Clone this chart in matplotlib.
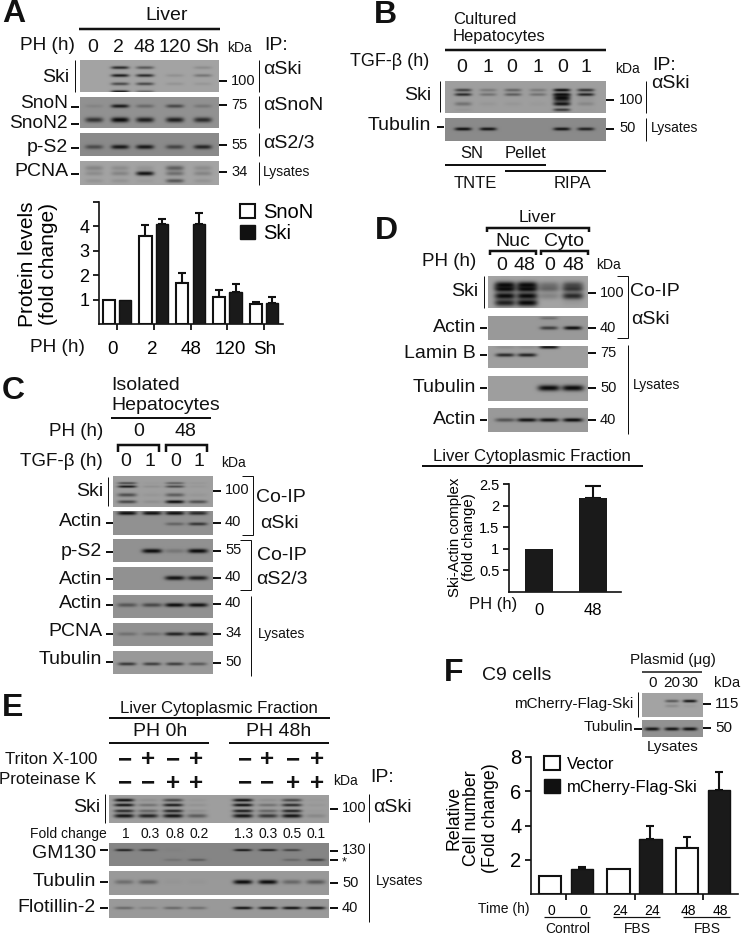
import numpy as np
import matplotlib
matplotlib.use("Agg")
import matplotlib.pyplot as plt
from matplotlib.patches import Patch
from matplotlib.transforms import ScaledTranslation

plt.rcParams['font.family'] = ['Liberation Sans', 'DejaVu Sans']

# ---------- bar data ----------
A_GROUPS = ['0', '2', '48', '120', 'Sh']
A_SNON = [1, 3.6, 1.7, 1.1, 0.8]
A_SNON_ERR = [0, 0.45, 0.4, 0.3, 0.1]
A_SKI = [1, 4.1, 4.1, 1.3, 0.85]
A_SKI_ERR = [0, 0.22, 0.45, 0.35, 0.25]

D_GROUPS = ['0', '48']
D_VALUES = [1, 2.17]
D_ERR = [0, 0.3]

F_TIMES = ['0', '0', '24', '24', '48', '48']
F_VECTOR = [1.03, 1.45, 2.7]
F_VECTOR_ERR = [0, 0, 0.6]
F_SKI = [1.47, 3.2, 6.05]
F_SKI_ERR = [0.1, 0.75, 1.1]

# ---------- blot band darkness tables (rows = bands, columns = lanes) ----------
BA_SKI = [[0, .8, .5, 0, .15], [0, .9, .8, .12, .3], [0, .6, .6, .1, .08], [0, .9, .4, 0, 0]]
BA_SNON = [[.1, .9, .3, .55, .2], [.7, 1, .85, .85, .75]]
BA_PS2 = [[.5, .9, .9, .55, .8]]
BA_PCNA = [[.2, .15, .1, .45, .15], [.15, .2, .95, .35, .2], [.1, .1, .05, .5, .1]]

BB_SKI = [[.65, .25, .4, .25, 1, .75], [.8, .3, .45, .3, 1, .85], [0, 0, 0, 0, 1, .05],
          [.3, .05, .05, .03, .95, .15], [.05, 0, 0, 0, .7, .02]]
BB_TUB = [[.98, .95, 0, 0, .95, .85]]

BC_SKI = [[.6, .03, .45, .05], [.95, .1, .6, .05], [.55, .05, .45, .05], [.6, .1, 1, .55]]
BC_ACT1 = [[1, .98, 1, .8], [0, 0, .35, .7]]
BC_PS2 = [[0, 1, .2, 1]]
BC_ACT2 = [[0, 0, .95, .85]]
BC_ACT3 = [[.45, .55, 1, .95]]
BC_PCNA = [[.25, .25, .85, .9]]
BC_TUB = [[.7, .65, .65, .45]]

BD_SKI = [[1, 1, .3, .55], [1, 1, .35, .65], [1, 1, .2, .8], [.85, 1, 0, .05]]
BD_ACT1 = [[0, 0, .3, 0], [0, 0, .65, 1]]
BD_LAM = [[.1, .1, .95, .02], [.8, .85, 0, 0]]
BD_TUB = [[0, 0, 1, 1]]
BD_ACT2 = [[.5, .95, .95, 1]]

BE_SKI = [[.98, .1, .6, .05, .98, .1, .6, .03], [.95, .3, .9, .08, .98, .3, .8, .05],
          [.8, .4, .85, .1, .9, .4, .85, .03], [.95, .85, .95, .45, .95, .7, .95, .15]]
BE_GM = [[.9, .65, .03, 0, .98, .9, .6, 0], [0, 0, .15, .35, 0, 0, .25, .65]]
BE_TUB = [[.3, .4, .03, .03, 1, 1, .35, .45]]
BE_FLO = [[.35, .15, .35, .3, .98, .95, .98, .95]]

BF_SKI = [[0, .5, .95], [0, .15, .05]]
BF_TUB = [[.95, .95, .98]]

W, H = 745, 935
fig = plt.figure(figsize=(W / 100, H / 100), dpi=100)
main = fig.add_axes([0, 0, 1, 1])
main.set_xlim(0, W)
main.set_ylim(H, 0)
main.axis('off')


def T(x, y, s, size=14, ha='left', va='center', **kw):
    main.text(x, y, s, fontsize=size, ha=ha, va=va, color='#111111', **kw)


def L(x0, y0, x1, y1, lw=1.0):
    main.plot([x0, x1], [y0, y1], color='#111111', lw=lw * 0.72, solid_capstyle='butt',
              solid_joinstyle='miter')


def bracket(x0, x1, y, drop, lw=2.5):
    main.plot([x0, x0, x1, x1], [y + drop, y, y, y + drop], color='#111111', lw=lw * 0.72,
              solid_capstyle='butt', solid_joinstyle='miter')


def side_bracket(x_in, x_out, y0, y1, lw=1.0):
    main.plot([x_in, x_out, x_out, x_in], [y0, y0, y1, y1], color='#111111', lw=lw * 0.72,
              solid_capstyle='butt', solid_joinstyle='miter')


def blot(box, lanes, ys, dark, hh=1.8, hw=9, base=0.58):
    x0, y0, x1, y1 = box
    xs = np.linspace(x0, x1, int((x1 - x0) * 2))
    yy = np.linspace(y0, y1, int((y1 - y0) * 2))
    X, Y = np.meshgrid(xs, yy)
    trans = np.ones_like(X)
    hhs = hh if np.iterable(hh) else [hh] * len(ys)
    for yc, h, row in zip(ys, hhs, dark):
        for xc, d in zip(lanes, row):
            if d > 0:
                g = np.exp(-((X - xc) / hw) ** 4) * np.exp(-((Y - yc) / h) ** 2)
                trans *= 1 - 0.97 * d * g
    img = base * trans + 0.02
    main.imshow(img, extent=(x0, x1, y1, y0), cmap='gray', vmin=0, vmax=1, aspect='auto',
                interpolation='bilinear', zorder=1)


def bar_axes(px0, px1, py_top, py_bot, ylim, c0, step):
    ax = fig.add_axes([px0 / W, 1 - py_bot / H, (px1 - px0) / W, (py_bot - py_top) / H])
    ax.patch.set_alpha(0)
    ax.set_xlim((px0 - c0) / step, (px1 - c0) / step)
    ax.set_ylim(*ylim)
    for s in ('top', 'right'):
        ax.spines[s].set_visible(False)
    for s in ('left', 'bottom'):
        ax.spines[s].set_linewidth(1.2)
        ax.spines[s].set_color('#111111')
    return ax


def err_up(ax, x, vals, errs, cap=3):
    x, vals, errs = np.asarray(x, float), np.asarray(vals, float), np.asarray(errs, float)
    m = errs > 0
    ax.errorbar(x[m], vals[m], yerr=[np.zeros(m.sum()), errs[m]], capsize=cap, elinewidth=1.5,
                capthick=1.5, ecolor='#111111', fmt='none')


def grouped(ax, vals1, err1, vals2, err2, off, wid):
    x = np.arange(len(vals1))
    err_up(ax, x - off, vals1, err1)
    err_up(ax, x + off, vals2, err2)
    ax.bar(x - off, vals1, wid, facecolor='white', edgecolor='#111111', linewidth=1.5, zorder=3)
    ax.bar(x + off, vals2, wid, facecolor='#1a1a1a', edgecolor='#111111', linewidth=1.0, zorder=3)


# ================= Panel A =================
T(2, 14, 'A', 23, weight='bold')
T(167, 16, 'Liver', 14, ha='center')
L(79, 29, 220, 29, 2.5)
T(20, 46, 'PH (h)', 13.7)
for x, s in zip([93, 118, 144, 175, 207], A_GROUPS):
    T(x, 47, s, 14, ha='center')
T(227, 48, 'kDa', 10)
T(264, 46, 'IP:', 14)
AL = [94, 120, 145, 175, 203]
blot((80, 60, 219, 92), AL, [67.5, 75.5, 84, 92], BA_SKI, hh=1.5, base=0.62)
blot((80, 97, 219, 128), AL, [106, 120], BA_SNON, hh=[1.8, 2.6], base=0.55)
blot((80, 133, 219, 156), AL, [147], BA_PS2, hh=2.2, base=0.52)
blot((80, 161, 219, 185), AL, [168, 173.5, 181], BA_PCNA, hh=[2.5, 2.2, 2.0], base=0.62)
T(69, 77, 'Ski', 14, ha='right')
L(74.5, 60, 74.5, 92)
T(68, 104, 'SnoN', 13.8, ha='right')
T(68, 123.5, 'SnoN2', 13.8, ha='right')
T(68, 147, 'p-S2', 14, ha='right')
T(68, 171, 'PCNA', 14, ha='right')
for y in (107, 124, 148, 174):
    L(71, y, 79, y, 2)
for y, s in zip((81, 105, 145, 172), ('100', '75', '55', '34')):
    L(219, y, 227, y, 2)
    T(231, y, s, 10.5)
for y0, y1 in ((60, 92), (96, 128), (133, 156), (162, 185)):
    L(258.5, y0, 258.5, y1)
T(263, 70, 'αSki', 14)
T(263, 106, 'αSnoN', 14)
T(263, 143, 'αS2/3', 14)
T(263, 172, 'Lysates', 10)

axA = bar_axes(99, 283, 202, 324, (0, 5), 117, 36.75)
grouped(axA, A_SNON, A_SNON_ERR, A_SKI, A_SKI_ERR, 0.225, 0.33)
axA.set_yticks([1, 2, 3, 4, 5], ['1', '2', '3', '4', ''])
axA.set_xticks(range(5), A_GROUPS)
axA.tick_params(axis='y', labelsize=13, length=4, width=1.2, pad=3)
axA.tick_params(axis='x', labelsize=13.5, length=4, width=1.2, pad=8)
for lbl, dx in zip(axA.get_xticklabels(), [-4, -2, 1, 3, 1]):
    lbl.set_transform(lbl.get_transform() + ScaledTranslation(dx / 100, 0, fig.dpi_scale_trans))
axA.set_ylabel('Protein levels\n(fold change)', fontsize=15, va='center', linespacing=1.12)
axA.yaxis.set_label_coords(38, 264, transform=main.transData)
axA.legend(handles=[Patch(fc='white', ec='#111111', lw=1.5, label='SnoN'),
                    Patch(fc='#111111', ec='#111111', label='Ski')],
           loc='upper left', bbox_to_anchor=(240, 203), bbox_transform=main.transData,
           frameon=False, fontsize=14.5, borderpad=0, borderaxespad=0, handlelength=0.72,
           handleheight=0.72, handletextpad=0.45, labelspacing=0.1)
T(30, 347, 'PH (h)', 13.7)

# ================= Panel B =================
T(374, 15, 'B', 23, weight='bold')
T(453, 20, 'Cultured', 12)
T(453, 37, 'Hepatocytes', 12)
L(445, 50, 606, 50, 2.5)
T(350, 62, 'TGF-β (h)', 13)
for x, s in zip([462, 488, 512, 538, 563, 586], '010101'):
    T(x, 67, s, 14, ha='center')
T(615, 69, 'kDa', 10)
T(652, 65, 'IP:', 14)
T(651, 84, 'αSki', 14)
BL = [463, 488, 513, 538, 562, 586]
blot((445, 81, 606, 113), BL, [90, 94.5, 98, 104, 110], BB_SKI, hh=[1.5, 1.5, 4, 2, 1.5], hw=8.5, base=0.6)
blot((445, 118, 606, 141), BL, [129], BB_TUB, hh=1.6, hw=8.5, base=0.52)
T(431, 95, 'Ski', 14, ha='right')
L(440, 81, 440, 112)
T(431, 126, 'Tubulin', 14, ha='right')
L(437, 127, 444, 127, 2)
for y, s in zip((100, 129), ('100', '50')):
    L(606, y, 614, y, 2)
    T(619, y - 0.5, s, 10.5)
L(646, 81, 646, 113)
L(646, 118, 646, 141)
T(651, 128, 'Lysates', 10)
T(472, 153, 'SN', 12, ha='center')
T(525, 153, 'Pellet', 12, ha='center')
L(445, 165, 546, 165, 2)
L(505, 171, 606, 171, 2)
T(475, 183, 'TNTE', 12, ha='center')
T(572, 183, 'RIPA', 12, ha='center')

# ================= Panel C =================
T(2, 391, 'C', 23, weight='bold')
T(111, 385, 'Isolated', 14)
T(111, 405, 'Hepatocytes', 14)
L(111, 418, 211, 418, 2)
T(49, 432, 'PH (h)', 13.5)
T(139, 431, '0', 14, ha='center')
T(185, 431, '48', 14, ha='center')
bracket(118, 159, 445, 7)
bracket(166, 207, 445, 7)
T(20, 461, 'TGF-β (h)', 13.5)
for x, s in zip([126, 150, 176, 199], '0101'):
    T(x, 461, s, 14, ha='center')
T(221, 463, 'kDa', 10)
CL = [127, 152, 175, 198]
blot((113, 476, 213, 507), CL, [483, 486.5, 495, 502], BC_SKI, hh=[1.1, 1.2, 1.8, 1.6], hw=9.5, base=0.6)
blot((113, 511, 213, 535), CL, [513, 524], BC_ACT1, hh=[1.8, 1.6], hw=9.5, base=0.55)
blot((113, 539, 213, 562), CL, [551], BC_PS2, hh=2.2, hw=10, base=0.55)
blot((113, 567, 213, 590), CL, [578], BC_ACT2, hh=2.2, hw=10, base=0.55)
blot((113, 595, 213, 618), CL, [605], BC_ACT3, hh=2.0, hw=10, base=0.55)
blot((113, 623, 213, 646), CL, [634], BC_PCNA, hh=1.8, hw=10, base=0.55)
blot((113, 651, 213, 674), CL, [664], BC_TUB, hh=1.6, hw=9, base=0.58)
T(103, 491, 'Ski', 14, ha='right')
L(108, 477, 108, 506)
for y, ty, s in zip((523, 552, 579, 605, 634, 662), (522, 552, 579, 604, 632, 660),
                    ('Actin', 'p-S2', 'Actin', 'Actin', 'PCNA', 'Tubulin')):
    T(102, ty, s, 14, ha='right')
    L(106, y, 113, y, 2)
for y, s in zip((491, 523, 551, 578, 604, 634, 663), ('100', '40', '55', '40', '40', '34', '50')):
    L(213, y, 221, y, 2)
    T(225, y - 1, s, 10.5)
side_bracket(242, 252.5, 476, 535)
side_bracket(240, 250.5, 540, 590)
L(251, 596, 251, 676)
T(281, 498, 'Co-IP', 14, ha='center')
T(279, 523, 'αSki', 14, ha='center')
T(282, 556, 'Co-IP', 14, ha='center')
T(282, 580, 'αS2/3', 14, ha='center')
T(258, 634, 'Lysates', 10)

# ================= Panel D =================
T(375, 231, 'D', 23, weight='bold')
T(537, 217, 'Liver', 12.5, ha='center')
bracket(487, 589, 228, 4)
T(513, 242, 'Nuc', 14, ha='center')
T(564, 242, 'Cyto', 14, ha='center')
bracket(490, 536, 251, 4)
bracket(541, 588, 251, 4)
T(422, 262, 'PH (h)', 13.5)
for x, s in zip([502, 524, 550, 573], ['0', '48', '0', '48']):
    T(x, 265, s, 14, ha='center')
T(596, 265, 'kDa', 10)
DL = [505, 527, 549, 573]
blot((488, 276, 588, 308), DL, [285, 289, 296, 303], BD_SKI, hh=[3.5, 3, 3.5, 3.5], hw=10.5, base=0.62)
blot((488, 316, 588, 340), DL, [318, 328], BD_ACT1, hh=[1.4, 1.8], hw=9, base=0.58)
blot((488, 346, 588, 368), DL, [347, 355], BD_LAM, hh=[1.6, 1.8], hw=9.5, base=0.6)
blot((488, 376, 588, 401), DL, [388], BD_TUB, hh=3, hw=11, base=0.6)
blot((488, 408, 588, 432), DL, [420], BD_ACT2, hh=1.9, hw=10, base=0.58)
T(478, 292, 'Ski', 14, ha='right')
L(483.5, 276, 483.5, 308)
for y, ty, s in zip((328, 355, 388, 420), (327, 354, 387, 420), ('Actin', 'Lamin B', 'Tubulin', 'Actin')):
    T(476, ty, s, 14, ha='right')
    L(480, y, 487, y, 2)
for y, s in zip((293, 328, 353, 388, 420), ('100', '40', '75', '50', '40')):
    L(588, y, 596, y, 2)
    T(600, y, s, 10.5)
side_bracket(617, 628, 276, 338)
L(628, 345, 628, 434)
T(630, 292, 'Co-IP', 14)
T(631, 320, 'αSki', 14)
T(633, 385, 'Lysates', 10)
T(532, 456, 'Liver Cytoplasmic Fraction', 12.1, ha='center')
L(422, 466, 643, 466, 2)

axD = bar_axes(509, 621, 484.3, 591.5, (0, 2.5), 539.3, 53.7)
err_up(axD, range(2), D_VALUES, D_ERR, cap=6)
axD.bar(range(2), D_VALUES, 0.52, color='#1a1a1a', zorder=3)
axD.set_yticks([0.5, 1, 1.5, 2, 2.5], ['0.5', '1', '1.5', '2', '2.5'])
axD.set_xticks(range(2), D_GROUPS)
axD.tick_params(axis='y', labelsize=10.5, length=4, width=1.2, pad=3)
axD.tick_params(axis='x', labelsize=12, length=0, pad=8)
axD.set_ylabel('Ski-Actin complex\n(fold change)', fontsize=10.8, va='center', linespacing=1.05)
axD.yaxis.set_label_coords(462, 537, transform=main.transData)
T(469, 605, 'PH (h)', 12)

# ================= Panel E =================
T(2, 708, 'E', 23, weight='bold')
T(219, 708, 'Liver Cytoplasmic Fraction', 12.1, ha='center')
L(109, 718, 330, 718, 2)
T(160, 732, 'PH 0h', 14, ha='center')
T(279, 732, 'PH 48h', 14, ha='center')
L(109, 743, 209, 743, 2)
L(229, 743, 329, 743, 2)
T(97, 759, 'Triton X-100', 12.2, ha='right')
T(96, 780, 'Proteinase K', 12.2, ha='right')
EL = [124, 148, 173, 197, 243, 268, 292, 316]
for x, t, p in zip([125, 148, 173, 196, 245, 267, 293, 317], '-+-+-+-+', '--++--++'):
    T(x, 759.5, '+' if t == '+' else '\u2212', 17.5, ha='center', weight='bold')
    T(x, 783, '+' if p == '+' else '\u2212', 17.5, ha='center', weight='bold')
T(333, 781, 'kDa', 10)
T(370, 778, 'IP:', 14)
blot((109, 795, 329, 823), EL, [800, 805, 811, 816], BE_SKI, hh=[1.5, 1.5, 1.5, 2], hw=10, base=0.6)
blot((109, 843, 329, 866), EL, [850, 860], BE_GM, hh=[1.1, 1.2], hw=9, base=0.5)
blot((109, 871, 329, 895), EL, [882], BE_TUB, hh=2.2, hw=9.5, base=0.58)
blot((109, 899, 329, 918), EL, [908], BE_FLO, hh=1.4, hw=9.5, base=0.58)
T(100, 808, 'Ski', 14, ha='right')
L(105, 794, 105, 823)
L(330, 809, 338, 809, 2)
T(342, 808, '100', 10.5)
L(368.5, 794, 368.5, 822)
T(373, 808, 'αSki', 14)
T(30, 834, 'Fold change', 10)
for x, s in zip([126, 150, 175, 199, 244, 268, 292, 316],
                ['1', '0.3', '0.8', '0.2', '1.3', '0.3', '0.5', '0.1']):
    T(x, 834, s, 10, ha='center')
for y, ty, s in zip((850, 882, 908), (854, 881, 907), ('GM130', 'Tubulin', 'Flotillin-2')):
    T(96, ty, s, 14, ha='right')
    L(100, y, 108, y, 2)
for y, ty, s in zip((851, 860, 883, 908), (850, 862, 883, 908), ('130', '*', '50', '40')):
    L(330, y, 338, y, 2)
    T(342, ty, s, 10.5 if s != '*' else 9)
L(369, 843, 369, 922)
T(376, 881, 'Lysates', 10)

# ================= Panel F =================
T(444, 673, 'F', 23, weight='bold')
T(482, 675, 'C9 cells', 14)
T(673, 660, 'Plasmid (μg)', 11, ha='center')
L(642, 672, 702, 672, 1.5)
for x, s in zip([653, 672, 690], ['0', '20', '30']):
    T(x, 683, s, 11, ha='center')
T(714, 683, 'kDa', 10.5)
FL = [652, 672, 690]
blot((642, 693, 703, 717), FL, [701, 706], BF_SKI, hh=[1.4, 1.6], hw=7, base=0.62)
blot((642, 720, 703, 737), FL, [729], BF_TUB, hh=1.7, hw=7.5, base=0.55)
T(633, 704, 'mCherry-Flag-Ski', 11, ha='right')
L(638, 692, 638, 717)
T(633, 727, 'Tubulin', 11, ha='right')
L(634, 729, 642, 729, 2)
L(703, 704, 711, 704, 2)
T(715, 704, '115', 11)
L(703, 728, 711, 728, 2)
T(715, 728, '50', 11)
T(673, 747, 'Lysates', 11, ha='center')

axF = bar_axes(531, 738, 757, 894, (0, 8), 566, 68.5)
grouped(axF, F_VECTOR, F_VECTOR_ERR, F_SKI, F_SKI_ERR, 0.233, 0.325)
axF.set_yticks([2, 4, 6, 8], ['2', '4', '6', '8'])
axF.set_xticks(range(3), ['', '', ''])
bar_x = [p for c in range(3) for p in (c - 0.233 + 0.02, c + 0.233 + 0.02)]
axF.set_xticks(bar_x, F_TIMES, minor=True)
axF.tick_params(axis='y', labelsize=14.5, length=4, width=1.2, pad=3)
axF.tick_params(axis='x', which='major', length=4, width=1.2)
axF.tick_params(axis='x', which='minor', length=0, labelsize=10, pad=7)
axF.set_ylabel('Relative\nCell number\n(Fold change)', fontsize=12.8, va='center', linespacing=1.1)
axF.yaxis.set_label_coords(472, 818, transform=main.transData)
axF.legend(handles=[Patch(fc='white', ec='#111111', lw=1.5, label='Vector'),
                    Patch(fc='#111111', ec='#111111', label='mCherry-Flag-Ski')],
           loc='upper left', bbox_to_anchor=(544, 756), bbox_transform=main.transData,
           frameon=False, fontsize=12, borderpad=0, borderaxespad=0, handlelength=0.95,
           handleheight=0.95, handletextpad=0.45, labelspacing=0.42)
T(478, 909, 'Time (h)', 10)
L(544, 917, 590, 917, 1.2)
L(613, 917, 660, 917, 1.2)
L(683, 917, 730, 917, 1.2)
T(568, 929, 'Control', 10, ha='center')
T(637, 929, 'FBS', 10, ha='center')
T(707, 929, 'FBS', 10, ha='center')

main.set_xlim(0, W)
main.set_ylim(H, 0)
fig.savefig('out.png', dpi=100)
